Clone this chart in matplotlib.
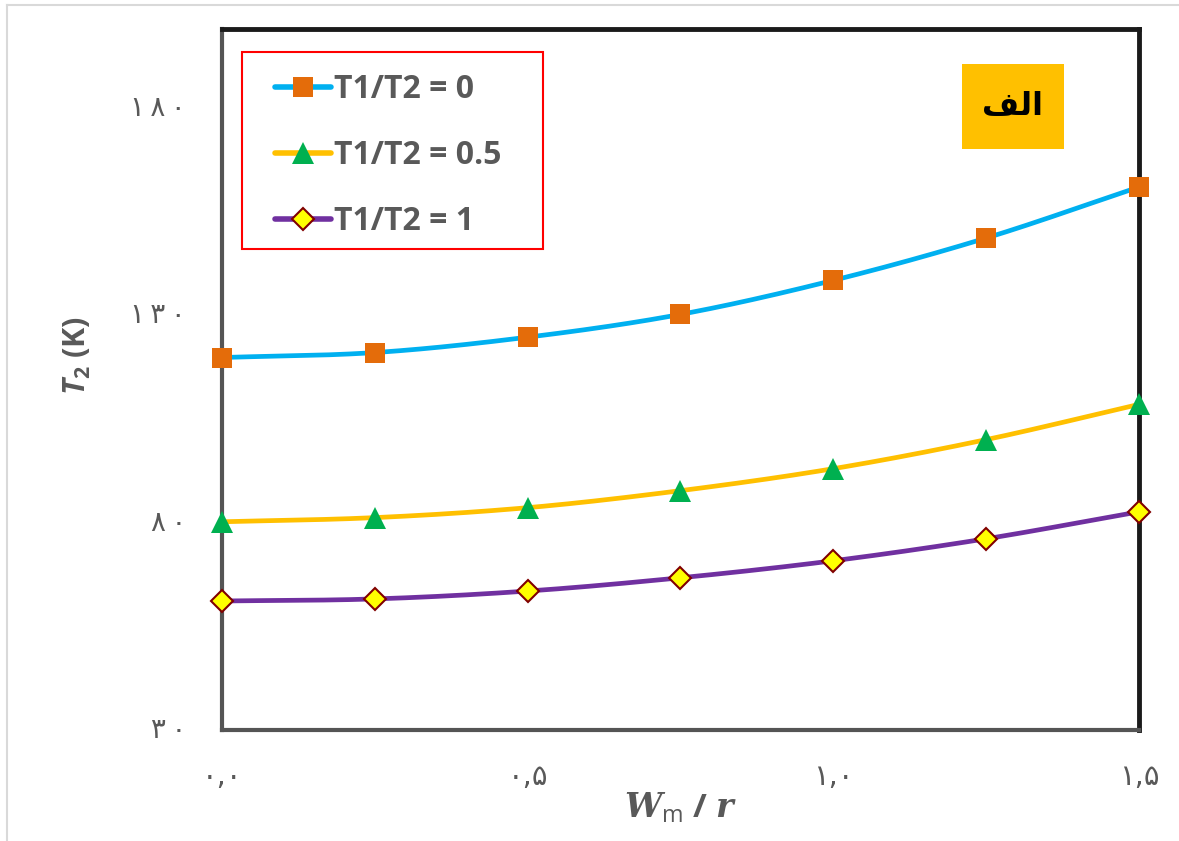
import matplotlib
matplotlib.use("Agg")
import matplotlib.pyplot as plt
from matplotlib.patches import Rectangle
from matplotlib.lines import Line2D
import numpy as np

plt.rcParams['mathtext.fontset'] = 'custom'
plt.rcParams['mathtext.it'] = 'Open Sans:bold:italic'
plt.rcParams['mathtext.rm'] = 'Open Sans:bold'
plt.rcParams['mathtext.bf'] = 'Open Sans:bold'
plt.rcParams['mathtext.sf'] = 'Open Sans'
plt.rcParams['mathtext.bfit'] = 'DejaVu Serif:bold:italic'

# data
x = [0.0, 0.25, 0.5, 0.75, 1.0, 1.25, 1.5]
t_ratio_0 = [119.1, 120.3, 124.0, 129.5, 137.7, 147.9, 160.2]
t_ratio_05 = [79.5, 80.5, 82.9, 87.0, 92.3, 99.3, 107.8]
t_ratio_1 = [60.4, 60.9, 62.8, 66.0, 70.1, 75.4, 81.9]
labels = ["T1/T2 = 0", "T1/T2 = 0.5", "T1/T2 = 1"]
yticks = [30, 80, 130, 180]
ytick_labels = ["۳\u2009۰", "۸\u2009۰", "۱\u2009۳\u2009۰", "۱\u2009۸\u2009۰"]
xticks = [0.0, 0.5, 1.0, 1.5]
xtick_labels = ["۰,۰", "۰,۵", "۱,۰", "۱,۵"]

gray = "#595959"


def smooth(xs, ys, n=30):
    # catmull-rom through the points, similar to excel's smoothed line
    xs = np.asarray(xs, float)
    ys = np.asarray(ys, float)
    px = np.concatenate([[2 * xs[0] - xs[1]], xs, [2 * xs[-1] - xs[-2]]])
    py = np.concatenate([[2 * ys[0] - ys[1]], ys, [2 * ys[-1] - ys[-2]]])
    ox, oy = [], []
    t = np.linspace(0, 1, n, endpoint=False)
    for i in range(1, len(px) - 2):
        for arr, out in ((px, ox), (py, oy)):
            p0, p1, p2, p3 = arr[i - 1], arr[i], arr[i + 1], arr[i + 2]
            out.extend(0.5 * ((2 * p1) + (-p0 + p2) * t
                              + (2 * p0 - 5 * p1 + 4 * p2 - p3) * t ** 2
                              + (-p0 + 3 * p1 - 3 * p2 + p3) * t ** 3))
    ox.append(xs[-1])
    oy.append(ys[-1])
    return ox, oy


fig = plt.figure(figsize=(11.79, 8.41), dpi=100)
ax = fig.add_axes([0.1883, 0.132, 0.7777, 0.8335])

styles = [
    (t_ratio_0, "#00B0F0", "s", "#E46C0A", "#E46C0A", 14, 0),
    (t_ratio_05, "#FFC000", "^", "#00B050", "#00B050", 16, 0),
    (t_ratio_1, "#7030A0", "D", "#FFFF00", "#800000", 11, 1.5),
]
handles = []
for (ys, lc, m, fc, ec, ms, mew), lab in zip(styles, labels):
    sx, sy = smooth(x, ys)
    ax.plot(sx, sy, color=lc, lw=3.4, zorder=2, clip_on=False)
    ax.plot(x, ys, ls="none", marker=m, ms=ms, mfc=fc, mec=ec, mew=mew,
            zorder=3, clip_on=False)
    handles.append(Line2D([], [], color=lc, lw=4, marker=m, ms=ms,
                          mfc=fc, mec=ec, mew=mew, solid_capstyle="round"))

ax.set_xlim(0, 1.5)
ax.set_ylim(29.3, 198.3)
ax.set_xticks(xticks)
ax.set_xticklabels(xtick_labels, fontsize=21, color=gray, family="DejaVu Sans")
ax.set_yticks(yticks)
ax.set_yticklabels(ytick_labels, fontsize=20, color=gray, family="DejaVu Sans")
ax.tick_params(length=0, axis="x", pad=24)
ax.tick_params(length=0, axis="y", pad=26)

for s in ["top", "right"]:
    ax.spines[s].set_linewidth(3.5)
    ax.spines[s].set_color("#1a1a1a")
for s in ["left", "bottom"]:
    ax.spines[s].set_linewidth(3)
    ax.spines[s].set_color("#555555")

ax.set_ylabel(r"$T_2$ (K)", fontsize=22, color=gray, fontweight="bold",
              family="Open Sans")
ax.yaxis.set_label_coords(-0.1407, 0.534)
ax.set_xlabel(r"$\mathbfit{W}_{\mathsf{m}}$ / $\mathbfit{r}$", fontsize=24,
              color=gray, fontweight="bold", family="Open Sans", labelpad=0)

leg = ax.legend(handles, labels, loc="upper left",
                bbox_to_anchor=(0.0578, 0.937), borderaxespad=0, borderpad=0,
                prop={"family": "Open Sans", "weight": "bold", "size": 23},
                labelcolor=gray, frameon=False, handlelength=1.75,
                handletextpad=0.1, labelspacing=1.03)
ax.add_patch(Rectangle((0.0218, 0.686), 0.3283, 0.281, transform=ax.transAxes,
                       facecolor="none", edgecolor="#FF0000", lw=1.5, zorder=4))

ax.add_patch(Rectangle((0.807, 0.829), 0.111, 0.121, transform=ax.transAxes,
                       facecolor="#FFC000", edgecolor="none", zorder=4))
ax.text(0.8625, 0.889, "\uFED2\uFEDF\uFE8D", transform=ax.transAxes,
        ha="center", va="center", fontsize=23, fontweight="bold",
        family="DejaVu Sans", color="black", zorder=5)

# light outer border of the chart area
fig.add_artist(Line2D([0.006, 0.006], [0.0, 0.994], color="#d9d9d9", lw=1.5))
fig.add_artist(Line2D([0.006, 1.0], [0.994, 0.994], color="#d9d9d9", lw=1.5))

plt.savefig("out.png", dpi=100)
